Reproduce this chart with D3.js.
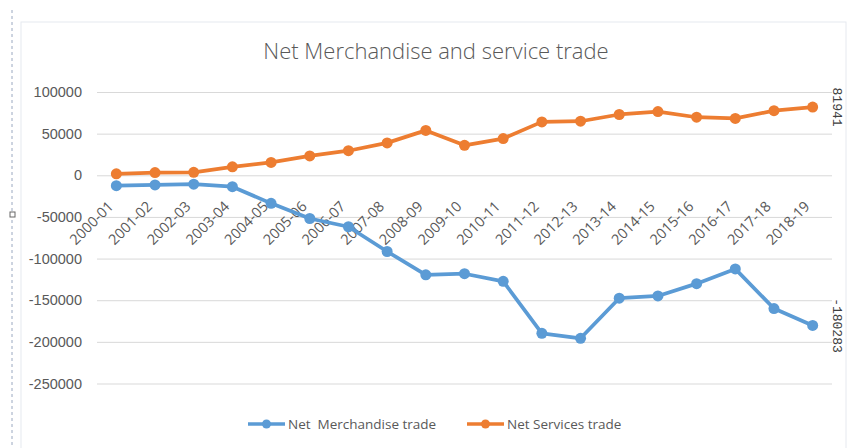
<!DOCTYPE html>
<html>
<head>
<meta charset="utf-8">
<script src="https://cdn.jsdelivr.net/npm/d3@7"></script>
<style>
  body { margin: 0; background: #fff; }
  svg { display: block; font-family: "Open Sans", sans-serif; }
</style>
</head>
<body>
<div id="chart"></div>
<script>
// chart values
const years = ["2000-01", "2001-02", "2002-03", "2003-04", "2004-05", "2005-06", "2006-07",
  "2007-08", "2008-09", "2009-10", "2010-11", "2011-12", "2012-13", "2013-14", "2014-15",
  "2015-16", "2016-17", "2017-18", "2018-19"];
const merchandise = [-12500, -11600, -10700, -13700, -33700, -51900, -61800, -91500, -119500,
  -118200, -127300, -189800, -195700, -147600, -144900, -130100, -112400, -160000, -180283];
const services = [1700, 3300, 3600, 10100, 15400, 23200, 29500, 38900, 53900, 36000, 44100,
  64100, 64900, 73000, 76500, 69700, 68300, 77600, 81941];
const yTicks = [-250000, -200000, -150000, -100000, -50000, 0, 50000, 100000];

const width = 849, height = 448;
const plotLeft = 97, plotRight = 832, plotTop = 92, plotBottom = 383.5;

const svg = d3.select("#chart").append("svg")
  .attr("width", width)
  .attr("height", height);

// page bits around the chart
svg.append("line")
  .attr("x1", 12).attr("x2", 12).attr("y1", 10).attr("y2", height)
  .attr("stroke", "#9aa8c0").attr("stroke-width", 1).attr("stroke-dasharray", "3,3");
svg.append("rect")
  .attr("x", 10).attr("y", 212).attr("width", 5).attr("height", 5)
  .attr("fill", "#fff").attr("stroke", "#666");

// chart area border
svg.append("rect")
  .attr("x", 21).attr("y", 22).attr("width", 825).attr("height", 430)
  .attr("fill", "#fff").attr("stroke", "#e6e9ef");

const x = d3.scalePoint().domain(years).range([plotLeft, plotRight]).padding(0.5);
const y = d3.scaleLinear().domain([-250000, 100000]).range([plotBottom, plotTop]);

// grid + y labels
const yAxis = d3.axisLeft(y)
  .tickValues(yTicks)
  .tickSize(-(plotRight - plotLeft))
  .tickPadding(15)
  .tickFormat(d => String(d));
const gy = svg.append("g").attr("transform", `translate(${plotLeft},0)`).call(yAxis);
gy.select(".domain").remove();
gy.selectAll(".tick line").attr("stroke", "#d9d9d9");
gy.selectAll(".tick text")
  .attr("fill", "#595959")
  .attr("font-size", "14.5px");

// title
svg.append("text")
  .attr("x", 436).attr("y", 59)
  .attr("text-anchor", "middle")
  .attr("font-size", "22px")
  .attr("font-weight", 300)
  .attr("fill", "#595959")
  .text("Net Merchandise and service trade");

// category labels, sitting under the zero line
svg.append("g").selectAll("text")
  .data(years)
  .enter()
  .append("text")
  .attr("transform", d => `translate(${x(d) - 2},${y(0) + 32}) rotate(-45)`)
  .attr("text-anchor", "end")
  .attr("font-size", "14.5px")
  .attr("fill", "#595959")
  .text(d => d);

const series = [
  { name: "Net  Merchandise trade", values: merchandise, color: "#5b9bd5" },
  { name: "Net Services trade", values: services, color: "#ed7d31" }
];

const line = d3.line()
  .x((d, i) => x(years[i]))
  .y(d => y(d));

series.forEach(s => {
  svg.append("path")
    .datum(s.values)
    .attr("d", line)
    .attr("fill", "none")
    .attr("stroke", s.color)
    .attr("stroke-width", 3.75)
    .attr("stroke-linejoin", "round");
  svg.append("g").selectAll("circle")
    .data(s.values)
    .enter()
    .append("circle")
    .attr("cx", (d, i) => x(years[i]))
    .attr("cy", d => y(d))
    .attr("r", 5.5)
    .attr("fill", s.color);
});

// end value labels, turned sideways
const lastYear = years[years.length - 1];
[services[services.length - 1], merchandise[merchandise.length - 1]].forEach(v => {
  svg.append("text")
    .attr("transform", `translate(${x(lastYear) + 20},${y(v)}) rotate(90)`)
    .attr("text-anchor", "middle")
    .attr("font-family", "Liberation Mono, monospace")
    .attr("font-size", "13px")
    .attr("fill", "#404040")
    .text(v);
});

// legend
const legendX = [248, 467];
series.forEach((s, i) => {
  const g = svg.append("g").attr("transform", `translate(${legendX[i]},424)`);
  g.append("line")
    .attr("x1", 0).attr("x2", 37)
    .attr("stroke", s.color).attr("stroke-width", 3.5);
  g.append("circle").attr("cx", 18.5).attr("cy", 0).attr("r", 4.5).attr("fill", s.color);
  g.append("text")
    .attr("x", 40).attr("y", 5)
    .attr("font-size", "13.5px")
    .attr("fill", "#595959")
    .style("white-space", "pre")
    .text(s.name);
});
</script>
</body>
</html>
